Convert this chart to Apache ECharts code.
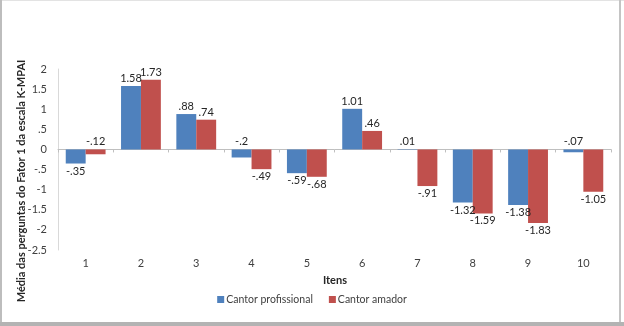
<!DOCTYPE html>
<html>
<head>
    <meta charset="UTF-8">
    <title>K-MPAI Fator 1</title>
    <script type="text/javascript" src="https://cdn.jsdelivr.net/npm/echarts@6/dist/echarts.min.js"></script>
    <style>
        html, body { margin: 0; padding: 0; background: #ffffff; }
    </style>
</head>
<body>
<div id="main" style="width: 624px;height:326px;"></div>
<script type="text/javascript">
    // dados
    var itens = ['1', '2', '3', '4', '5', '6', '7', '8', '9', '10'];
    var profissional = [-0.35, 1.58, 0.88, -0.2, -0.59, 1.01, 0.01, -1.32, -1.38, -0.07];
    var amador = [-0.12, 1.73, 0.74, -0.49, -0.68, 0.46, -0.91, -1.59, -1.83, -1.05];
    var nomes = ['Cantor profissional', 'Cantor amador'];
    var cores = ['#4F81BD', '#C0504D'];

    // tira o zero antes do ponto: 0.5 -> .5, -0.35 -> -.35
    function semZero(v) {
        return String(v).replace(/^(-?)0\./, '$1.');
    }

    function pontos(valores) {
        return valores.map(function (v) {
            return {
                value: v,
                label: { position: v < -0.3 ? 'bottom' : 'top' }
            };
        });
    }

    var myChart = echarts.init(document.getElementById('main'));

    var font = 'Lato, Open Sans, sans-serif';

    var option = {
        backgroundColor: '#ffffff',
        animation: false,
        textStyle: { fontFamily: font },
        grid: { left: 58, right: 13, top: 69, bottom: 76 },
        legend: {
            data: nomes,
            bottom: 16,
            left: 'center',
            itemWidth: 7,
            itemHeight: 7,
            itemGap: 16,
            icon: 'rect',
            textStyle: { fontSize: 10.5, color: '#404040', fontFamily: font, padding: [0, 0, 0, -3] }
        },
        xAxis: [
            {   // rótulos em baixo
                type: 'category',
                data: itens,
                position: 'bottom',
                axisLine: { show: false, onZero: false },
                axisTick: { show: false },
                axisLabel: { fontSize: 11, color: '#404040', margin: 8 }
            },
            {   // linha do zero
                type: 'category',
                data: itens,
                position: 'bottom',
                axisLine: { show: true, onZero: true, lineStyle: { color: '#bfbfbf', width: 1 } },
                axisTick: { show: true, length: 3, inside: false, lineStyle: { color: '#bfbfbf' } },
                axisLabel: { show: false }
            }
        ],
        yAxis: {
            type: 'value',
            min: -2.5,
            max: 2,
            interval: 0.5,
            axisLine: { show: true, lineStyle: { color: '#d9d9d9' } },
            axisTick: { show: false },
            splitLine: { show: false },
            axisLabel: {
                fontSize: 11,
                color: '#404040',
                margin: 11,
                formatter: semZero
            }
        },
        series: [
            {
                name: nomes[0],
                type: 'bar',
                data: pontos(profissional),
                itemStyle: { color: cores[0] },
                barGap: '0%',
                barCategoryGap: '28%',
                label: {
                    show: true,
                    distance: 2,
                    fontSize: 11,
                    color: '#262626',
                    formatter: function (p) { return semZero(p.value); }
                }
            },
            {
                name: nomes[1],
                type: 'bar',
                data: pontos(amador),
                itemStyle: { color: cores[1] },
                barGap: '0%',
                barCategoryGap: '28%',
                label: {
                    show: true,
                    distance: 2,
                    fontSize: 11,
                    color: '#262626',
                    formatter: function (p) { return semZero(p.value); }
                }
            }
        ],
        graphic: [
            {
                type: 'text',
                x: 335,
                y: 280,
                style: {
                    text: 'Itens',
                    font: 'bold 11px ' + font,
                    fill: '#262626',
                    align: 'center',
                    verticalAlign: 'middle'
                }
            },
            {
                type: 'text',
                x: 21,
                y: 181,
                rotation: Math.PI / 2,
                style: {
                    text: 'Média das perguntas do Fator 1 da escala K-MPAI',
                    font: 'bold 11px ' + font,
                    fill: '#262626',
                    align: 'center',
                    verticalAlign: 'middle'
                }
            },
            // moldura da figura
            { type: 'rect', shape: { x: 0, y: 0, width: 624, height: 1 }, style: { fill: '#e3e3e3' } },
            { type: 'rect', shape: { x: 0, y: 0, width: 2, height: 326 }, style: { fill: '#bdbdbd' } },
            { type: 'rect', shape: { x: 619, y: 0, width: 2, height: 326 }, style: { fill: '#c4c4c4' } },
            { type: 'rect', shape: { x: 0, y: 322, width: 624, height: 4 }, style: { fill: '#b3b3b3' } }
        ]
    };

    myChart.setOption(option);
</script>
</body>
</html>
